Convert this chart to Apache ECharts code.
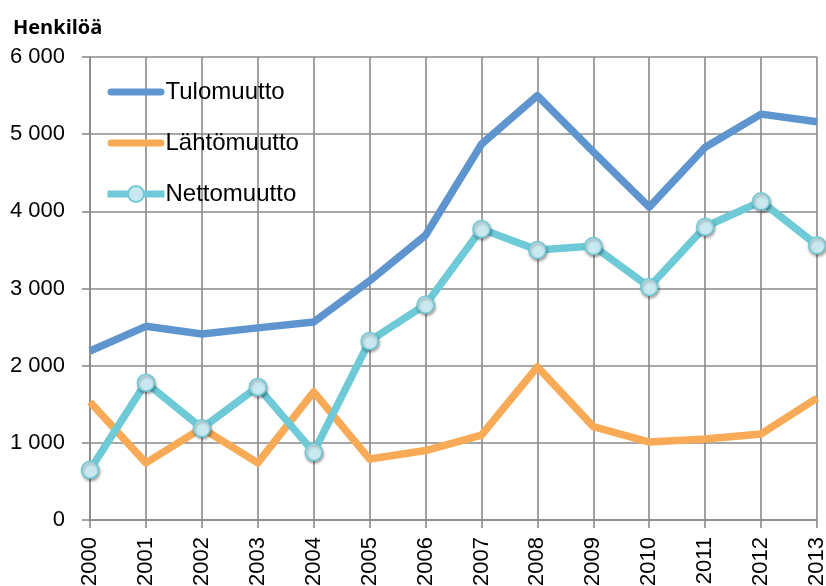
<!DOCTYPE html>
<html>
<head>
<meta charset="utf-8">
<script src="https://cdn.jsdelivr.net/npm/echarts@6/dist/echarts.min.js"></script>
<style>
  html, body { margin: 0; padding: 0; background: #fff; }
  #chart { width: 826px; height: 586px; }
</style>
</head>
<body>
<div id="chart"></div>
<script>
const years = ["2000", "2001", "2002", "2003", "2004", "2005", "2006", "2007", "2008", "2009", "2010", "2011", "2012", "2013"];
const tulomuutto = [2190, 2510, 2410, 2490, 2565, 3100, 3690, 4870, 5500, 4770, 4055, 4830, 5260, 5160];
const lahtomuutto = [1530, 740, 1190, 740, 1660, 790, 900, 1100, 1985, 1210, 1010, 1050, 1115, 1580];
const nettomuutto = [650, 1780, 1190, 1725, 880, 2320, 2790, 3770, 3500, 3550, 3020, 3800, 4130, 3560];

// väli tuhaterottimella: 6 000
function fmt(v) {
  return String(v).replace(/\B(?=(\d{3})+(?!\d))/g, " ");
}

// paksu viiva legendaan ilman symbolia
var lineIcon = "path://M3.5,0 H53.5 A3.5,3.5 0 0 1 53.5,7 H3.5 A3.5,3.5 0 0 1 3.5,0 Z";

var myChart = echarts.init(document.getElementById("chart"));

var gridLine = { show: true, lineStyle: { color: "#8a8a8a", width: 1.6 } };

var option = {
  animation: false,
  backgroundColor: "#fff",
  title: {
    text: "Henkilöä",
    left: 8,
    top: 13,
    textStyle: { fontFamily: "Open Sans", fontSize: 20, fontWeight: "bold", color: "#000" },
  },
  legend: {
    orient: "vertical",
    left: 99,
    top: 75,
    itemGap: 27,
    itemWidth: 57,
    itemHeight: 20,
    symbolKeepAspect: true,
    selectedMode: false,
    lineStyle: { width: 7 },
    textStyle: { fontFamily: "Liberation Sans", fontSize: 24, color: "#000", padding: [0, 0, 0, -4] },
    data: [
      { name: "Tulomuutto", icon: lineIcon },
      { name: "Lähtömuutto", icon: lineIcon },
      { name: "Nettomuutto" },
    ],
  },
  grid: { left: 90, right: 9, top: 57, bottom: 66, outerBoundsMode: "none" },
  xAxis: {
    type: "category",
    data: years,
    boundaryGap: false,
    axisLine: { lineStyle: { color: "#8a8a8a", width: 1.6 } },
    axisTick: { show: true, length: 8, lineStyle: { color: "#8a8a8a", width: 1.6 } },
    axisLabel: { rotate: 90, margin: 17, fontFamily: "Liberation Sans", fontSize: 22, color: "#000" },
    splitLine: gridLine,
  },
  yAxis: {
    type: "value",
    min: 0,
    max: 6000,
    interval: 1000,
    axisLine: { show: true, lineStyle: { color: "#8a8a8a", width: 1.6 } },
    axisTick: { show: true, length: 8, lineStyle: { color: "#8a8a8a", width: 1.6 } },
    axisLabel: { margin: 25, fontFamily: "Liberation Sans", fontSize: 22, color: "#000", formatter: fmt },
    splitLine: gridLine,
  },
  series: [
    {
      name: "Tulomuutto",
      type: "line",
      data: tulomuutto,
      showSymbol: false,
      symbol: "none",
      color: "#5f95ce",
      lineStyle: { width: 7.5, color: "#5f95ce", join: "round" },
    },
    {
      name: "Lähtömuutto",
      type: "line",
      data: lahtomuutto,
      showSymbol: false,
      symbol: "none",
      color: "#f8aa56",
      lineStyle: { width: 7.5, color: "#f8aa56", join: "round" },
    },
    {
      name: "Nettomuutto",
      type: "line",
      data: nettomuutto,
      symbol: "circle",
      symbolSize: 17,
      color: "#6ecad6",
      lineStyle: { width: 7.5, color: "#6ecad6", join: "round" },
      itemStyle: {
        color: "#c9e9f0",
        borderColor: "#6ecad6",
        borderWidth: 1.5,
        shadowColor: "rgba(0,0,0,0.35)",
        shadowBlur: 3,
        shadowOffsetX: 1,
        shadowOffsetY: 2,
      },
    },
  ],
};

myChart.setOption(option);
</script>
</body>
</html>
